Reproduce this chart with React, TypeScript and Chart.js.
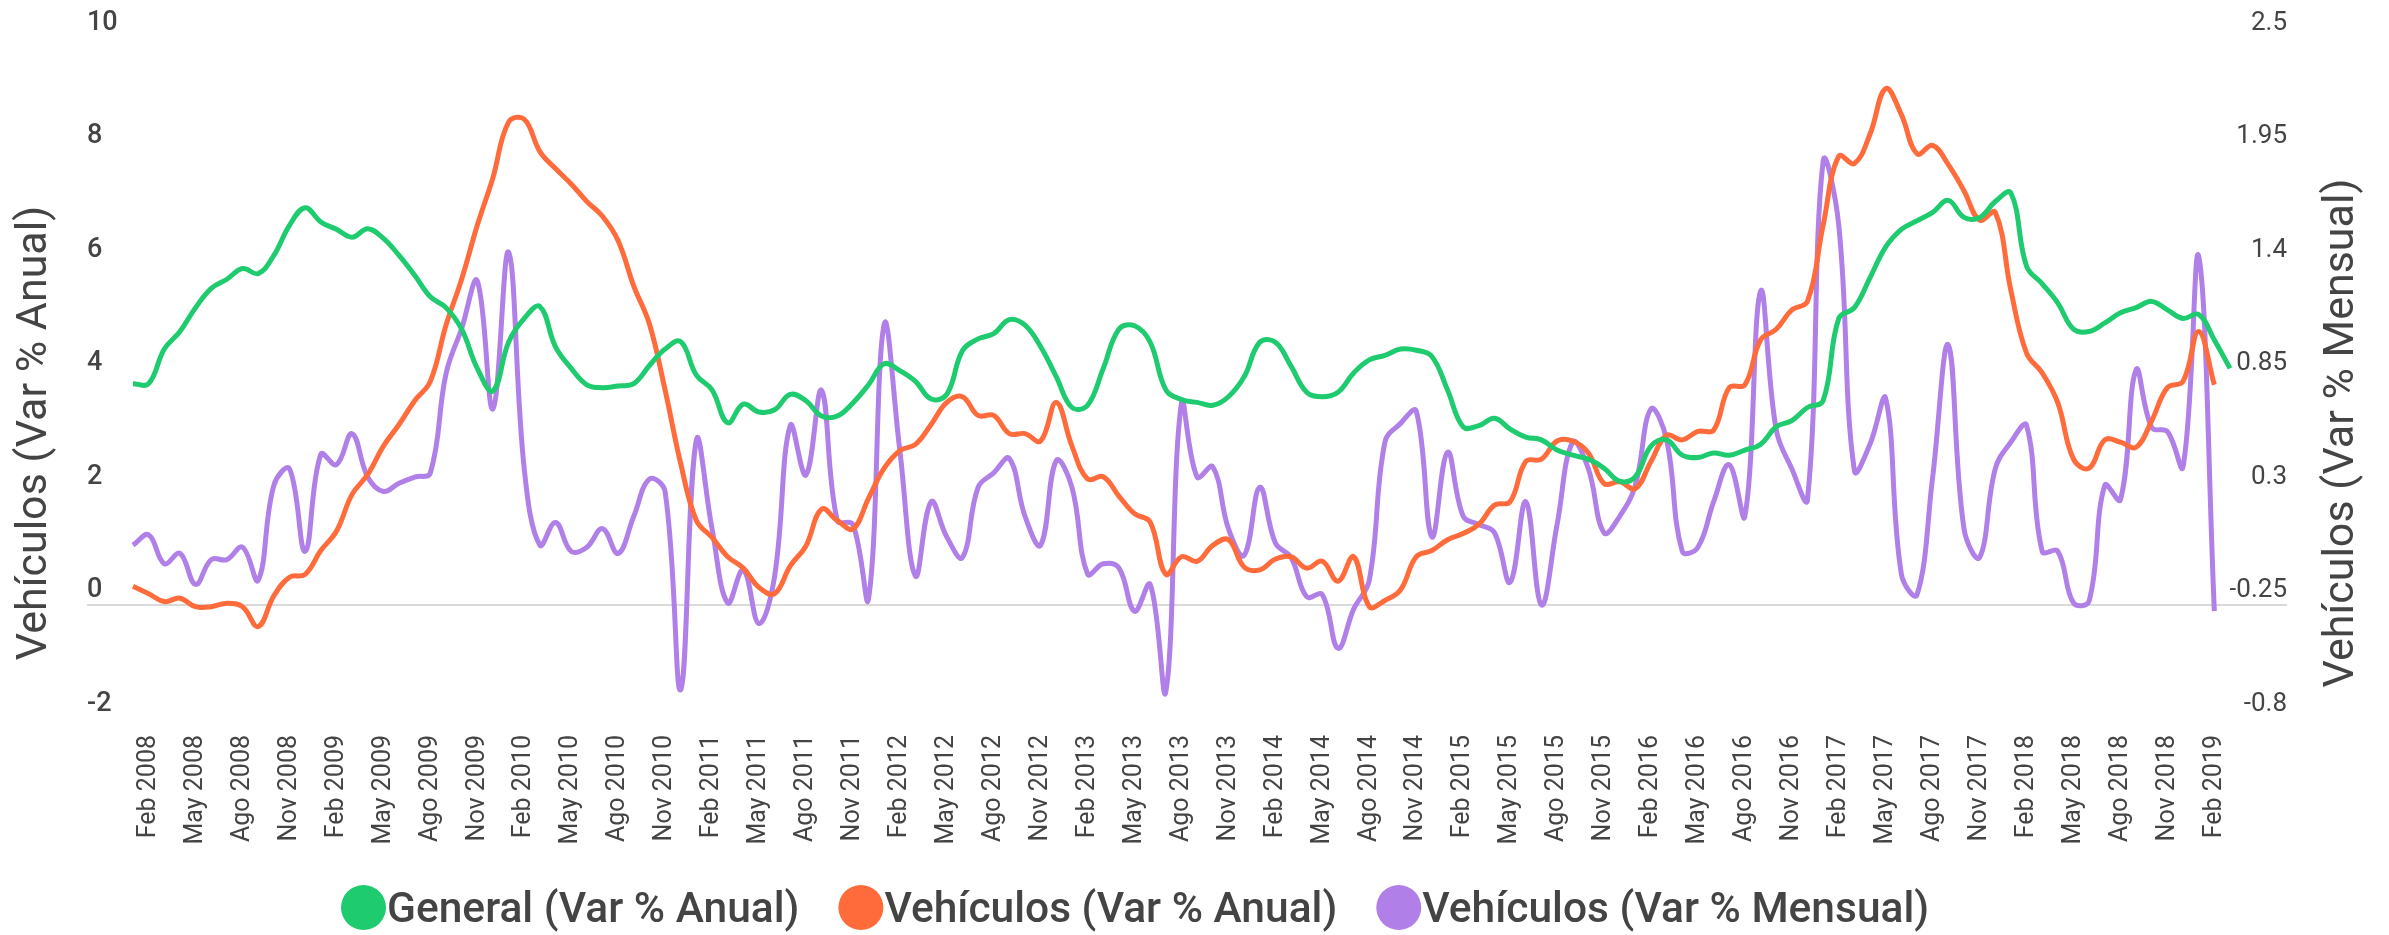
import React, { useEffect, useRef } from 'react';
import { Chart, registerables } from 'chart.js';

Chart.register(...registerables);

// Monthly categories, Ene 2008 .. Mar 2019
const categories: string[] = [
  'Ene 2008', 'Feb 2008', 'Mar 2008', 'Abr 2008', 'May 2008', 'Jun 2008', 'Jul 2008', 'Ago 2008', 'Sep 2008', 'Oct 2008', 'Nov 2008', 'Dic 2008',
  'Ene 2009', 'Feb 2009', 'Mar 2009', 'Abr 2009', 'May 2009', 'Jun 2009', 'Jul 2009', 'Ago 2009', 'Sep 2009', 'Oct 2009', 'Nov 2009', 'Dic 2009',
  'Ene 2010', 'Feb 2010', 'Mar 2010', 'Abr 2010', 'May 2010', 'Jun 2010', 'Jul 2010', 'Ago 2010', 'Sep 2010', 'Oct 2010', 'Nov 2010', 'Dic 2010',
  'Ene 2011', 'Feb 2011', 'Mar 2011', 'Abr 2011', 'May 2011', 'Jun 2011', 'Jul 2011', 'Ago 2011', 'Sep 2011', 'Oct 2011', 'Nov 2011', 'Dic 2011',
  'Ene 2012', 'Feb 2012', 'Mar 2012', 'Abr 2012', 'May 2012', 'Jun 2012', 'Jul 2012', 'Ago 2012', 'Sep 2012', 'Oct 2012', 'Nov 2012', 'Dic 2012',
  'Ene 2013', 'Feb 2013', 'Mar 2013', 'Abr 2013', 'May 2013', 'Jun 2013', 'Jul 2013', 'Ago 2013', 'Sep 2013', 'Oct 2013', 'Nov 2013', 'Dic 2013',
  'Ene 2014', 'Feb 2014', 'Mar 2014', 'Abr 2014', 'May 2014', 'Jun 2014', 'Jul 2014', 'Ago 2014', 'Sep 2014', 'Oct 2014', 'Nov 2014', 'Dic 2014',
  'Ene 2015', 'Feb 2015', 'Mar 2015', 'Abr 2015', 'May 2015', 'Jun 2015', 'Jul 2015', 'Ago 2015', 'Sep 2015', 'Oct 2015', 'Nov 2015', 'Dic 2015',
  'Ene 2016', 'Feb 2016', 'Mar 2016', 'Abr 2016', 'May 2016', 'Jun 2016', 'Jul 2016', 'Ago 2016', 'Sep 2016', 'Oct 2016', 'Nov 2016', 'Dic 2016',
  'Ene 2017', 'Feb 2017', 'Mar 2017', 'Abr 2017', 'May 2017', 'Jun 2017', 'Jul 2017', 'Ago 2017', 'Sep 2017', 'Oct 2017', 'Nov 2017', 'Dic 2017',
  'Ene 2018', 'Feb 2018', 'Mar 2018', 'Abr 2018', 'May 2018', 'Jun 2018', 'Jul 2018', 'Ago 2018', 'Sep 2018', 'Oct 2018', 'Nov 2018', 'Dic 2018',
  'Ene 2019', 'Feb 2019', 'Mar 2019',
];

// Tick labels shown on the x axis
const xTickLabels: string[] = [
  'Feb 2008', 'May 2008', 'Ago 2008', 'Nov 2008', 'Feb 2009', 'May 2009', 'Ago 2009', 'Nov 2009',
  'Feb 2010', 'May 2010', 'Ago 2010', 'Nov 2010', 'Feb 2011', 'May 2011', 'Ago 2011', 'Nov 2011',
  'Feb 2012', 'May 2012', 'Ago 2012', 'Nov 2012', 'Feb 2013', 'May 2013', 'Ago 2013', 'Nov 2013',
  'Feb 2014', 'May 2014', 'Ago 2014', 'Nov 2014', 'Feb 2015', 'May 2015', 'Ago 2015', 'Nov 2015',
  'Feb 2016', 'May 2016', 'Ago 2016', 'Nov 2016', 'Feb 2017', 'May 2017', 'Ago 2017', 'Nov 2017',
  'Feb 2018', 'May 2018', 'Ago 2018', 'Nov 2018', 'Feb 2019',
];

const leftTicks: number[] = [-2, 0, 2, 4, 6, 8, 10];
const rightTicks: number[] = [-0.8, -0.25, 0.3, 0.85, 1.4, 1.95, 2.5];

// General (Var % Anual) – left axis
const generalAnual: number[] = [
  3.90, 3.90, 4.51, 4.82, 5.24, 5.58, 5.74, 5.93, 5.84, 6.16,
  6.69, 7.00, 6.75, 6.62, 6.48, 6.63, 6.46, 6.16, 5.81, 5.43,
  5.24, 4.86, 4.17, 3.77, 4.63, 5.05, 5.26, 4.55, 4.17, 3.88,
  3.83, 3.86, 3.90, 4.22, 4.51, 4.64, 4.05, 3.79, 3.21, 3.54,
  3.40, 3.44, 3.71, 3.60, 3.33, 3.33, 3.56, 3.88, 4.25, 4.13,
  3.94, 3.63, 3.71, 4.48, 4.69, 4.78, 5.03, 4.93, 4.55, 4.02,
  3.48, 3.52, 4.17, 4.86, 4.92, 4.63, 3.79, 3.62, 3.57, 3.52,
  3.67, 4.02, 4.63, 4.63, 4.21, 3.75, 3.67, 3.75, 4.09, 4.32,
  4.40, 4.51, 4.49, 4.38, 3.79, 3.14, 3.16, 3.29, 3.10, 2.96,
  2.91, 2.73, 2.64, 2.57, 2.41, 2.18, 2.26, 2.80, 2.91, 2.64,
  2.60, 2.68, 2.64, 2.73, 2.83, 3.14, 3.25, 3.48, 3.60, 5.05,
  5.24, 5.77, 6.31, 6.62, 6.77, 6.92, 7.13, 6.83, 6.83, 7.11,
  7.26, 5.97, 5.66, 5.32, 4.86, 4.82, 4.97, 5.15, 5.24, 5.35,
  5.20, 5.05, 5.12, 4.67, 4.17,
];

// Vehículos (Var % Anual) – left axis
const vehiculosAnual: number[] = [
  0.33, 0.20, 0.06, 0.12, -0.03, -0.03, 0.03, -0.03, -0.38, 0.16,
  0.49, 0.54, 0.96, 1.30, 1.95, 2.30, 2.80, 3.18, 3.60, 3.94,
  4.93, 5.74, 6.69, 7.53, 8.51, 8.56, 7.99, 7.69, 7.42, 7.11,
  6.85, 6.42, 5.62, 4.95, 3.79, 2.49, 1.49, 1.19, 0.85, 0.65,
  0.31, 0.20, 0.69, 1.04, 1.69, 1.49, 1.34, 1.88, 2.41, 2.72,
  2.83, 3.18, 3.57, 3.67, 3.34, 3.34, 3.02, 3.02, 2.89, 3.57,
  2.80, 2.22, 2.26, 1.92, 1.61, 1.46, 0.54, 0.85, 0.77, 1.05,
  1.15, 0.67, 0.62, 0.81, 0.85, 0.65, 0.77, 0.42, 0.85, -0.03,
  0.08, 0.27, 0.85, 0.96, 1.15, 1.26, 1.42, 1.76, 1.82, 2.53,
  2.57, 2.89, 2.89, 2.68, 2.14, 2.17, 2.05, 2.53, 2.99, 2.91,
  3.06, 3.08, 3.83, 3.88, 4.67, 4.86, 5.20, 5.35, 6.69, 7.91,
  7.78, 8.30, 9.10, 8.64, 7.95, 8.10, 7.76, 7.30, 6.78, 6.92,
  5.54, 4.44, 4.09, 3.56, 2.57, 2.41, 2.91, 2.87, 2.78, 3.25,
  3.83, 3.94, 4.82, 3.88,
];

// Vehículos (Var % Mensual) – right axis
const vehiculosMensual: number[] = [
  0.04, 0.09, -0.05, 0.00, -0.15, -0.03, -0.03, 0.03, -0.13, 0.33,
  0.41, 0.01, 0.48, 0.43, 0.58, 0.37, 0.30, 0.34, 0.37, 0.39,
  0.87, 1.09, 1.32, 0.70, 1.46, 0.41, 0.04, 0.15, 0.01, 0.03,
  0.12, 0.00, 0.18, 0.36, 0.30, -0.66, 0.55, 0.12, -0.24, -0.08,
  -0.34, -0.11, 0.62, 0.38, 0.79, 0.16, 0.14, -0.22, 1.11, 0.50,
  -0.11, 0.25, 0.08, -0.02, 0.32, 0.39, 0.46, 0.18, 0.04, 0.45,
  0.32, -0.10, -0.05, -0.07, -0.28, -0.15, -0.67, 0.73, 0.37, 0.42,
  0.12, -0.01, 0.32, 0.05, -0.02, -0.21, -0.20, -0.46, -0.27, -0.13,
  0.54, 0.63, 0.69, 0.08, 0.49, 0.18, 0.14, 0.10, -0.14, 0.25,
  -0.25, 0.14, 0.54, 0.41, 0.10, 0.18, 0.33, 0.70, 0.55, 0.01,
  0.03, 0.25, 0.43, 0.18, 1.27, 0.60, 0.41, 0.26, 1.90, 1.59,
  0.40, 0.53, 0.75, -0.10, -0.20, 0.37, 1.01, 0.12, -0.02, 0.41,
  0.54, 0.62, 0.01, 0.01, -0.24, -0.23, 0.33, 0.26, 0.89, 0.61,
  0.59, 0.42, 1.44, -0.28,
];

const seriesLabels: string[] = ['General (Var % Anual)', 'Vehículos (Var % Anual)', 'Vehículos (Var % Mensual)'];
const leftTitle = 'Vehículos (Var % Anual)';
const rightTitle = 'Vehículos (Var % Mensual)';

const GREEN = '#1ecb6e';
const ORANGE = '#ff6b3a';
const PURPLE = '#b07fe8';
const TEXT = '#444444';
const ZERO_LINE = '#d9d9d9';
const FONT = 'Roboto';

const decorPlugin = {
  id: 'decor',
  afterDraw(chart: any) {
    const ctx: CanvasRenderingContext2D = chart.ctx;
    ctx.save();
    ctx.fillStyle = TEXT;
    ctx.font = `43px ${FONT}`;
    ctx.textAlign = 'center';
    ctx.textBaseline = 'middle';
    // axis titles, both reading bottom-to-top
    ctx.save();
    ctx.translate(35, 433);
    ctx.rotate(-Math.PI / 2);
    ctx.fillText(leftTitle, 0, 0);
    ctx.restore();
    ctx.save();
    ctx.translate(2342, 433);
    ctx.rotate(-Math.PI / 2);
    ctx.fillText(rightTitle, 0, 0);
    ctx.restore();

    // legend
    const r = 22.5;
    const cy = 907.5;
    let x = 341;
    ctx.font = `500 42.5px ${FONT}`;
    ctx.textAlign = 'left';
    ctx.textBaseline = 'alphabetic';
    chart.data.datasets.forEach((ds: any) => {
      ctx.beginPath();
      ctx.fillStyle = ds.borderColor;
      ctx.arc(x + r, cy, r, 0, Math.PI * 2);
      ctx.fill();
      ctx.fillStyle = TEXT;
      const tx = x + 2 * r + 1;
      ctx.fillText(ds.label, tx, 922);
      x = tx + ctx.measureText(ds.label).width + 39;
    });
    ctx.restore();
  },
};

export default function App() {
  const ref = useRef<HTMLCanvasElement | null>(null);

  useEffect(() => {
    if (!ref.current) return;
    const common = { borderWidth: 5, pointRadius: 0, pointHoverRadius: 0, tension: 0.4, fill: false };
    const chart = new Chart(ref.current, {
      type: 'line',
      data: {
        labels: categories,
        datasets: [
          { ...common, label: seriesLabels[0], data: generalAnual, borderColor: GREEN, backgroundColor: GREEN, yAxisID: 'y' },
          { ...common, label: seriesLabels[1], data: vehiculosAnual, borderColor: ORANGE, backgroundColor: ORANGE, yAxisID: 'y' },
          { ...common, label: seriesLabels[2], data: vehiculosMensual, borderColor: PURPLE, backgroundColor: PURPLE, yAxisID: 'y1' },
        ],
      },
      options: {
        responsive: false,
        animation: false,
        events: [],
        layout: { padding: { left: 87, right: 102, top: 37.5, bottom: 86.5 } },
        plugins: { legend: { display: false }, tooltip: { enabled: false }, title: { display: false } },
        scales: {
          x: {
            type: 'category',
            offset: false,
            grid: { display: false, drawTicks: false },
            border: { display: false },
            ticks: {
              autoSkip: false,
              maxRotation: 90,
              minRotation: 90,
              padding: 16.5,
              color: TEXT,
              font: { family: FONT, size: 25 },
              callback: (_v: any, index: number) => (xTickLabels.includes(categories[index]) ? categories[index] : ''),
            },
            afterFit: (scale: any) => { scale.height = 130; },
          },
          y: {
            type: 'linear',
            position: 'left',
            min: -2,
            max: 10,
            border: { display: false },
            grid: {
              drawOnChartArea: true,
              drawTicks: true,
              tickLength: 46,
              lineWidth: 2,
              color: (c: any) => (c.tick && c.tick.value === 0 ? ZERO_LINE : 'rgba(0,0,0,0)'),
            },
            afterBuildTicks: (scale: any) => { scale.ticks = leftTicks.map((v) => ({ value: v })); },
            ticks: {
              crossAlign: 'far',
              padding: 0,
              labelOffset: -14.5,
              color: TEXT,
              font: { family: FONT, size: 27, weight: '500' },
              callback: (v: any) => String(v),
            },
            afterFit: (scale: any) => { scale.width = 46; },
          },
          y1: {
            type: 'linear',
            position: 'right',
            min: -0.8,
            max: 2.5,
            border: { display: false },
            grid: {
              drawOnChartArea: false,
              drawTicks: true,
              tickLength: 57,
              lineWidth: 2,
              color: (c: any) => (c.tick && Math.abs(c.tick.value + 0.25) < 1e-6 ? ZERO_LINE : 'rgba(0,0,0,0)'),
            },
            afterBuildTicks: (scale: any) => { scale.ticks = rightTicks.map((v) => ({ value: v })); },
            ticks: {
              crossAlign: 'far',
              padding: 0,
              labelOffset: -14.5,
              color: TEXT,
              font: { family: FONT, size: 26 },
              callback: (v: any) => String(+Number(v).toFixed(2)),
            },
            afterFit: (scale: any) => { scale.width = 57; },
          },
        },
      } as any,
      plugins: [decorPlugin],
    });
    return () => chart.destroy();
  }, []);

  return (
    <div style={{ position: 'absolute', left: 0, top: 0, width: 2389, height: 935, background: '#ffffff' }}>
      <canvas ref={ref} width={2389} height={935} style={{ display: 'block', width: 2389, height: 935 }} />
    </div>
  );
}
